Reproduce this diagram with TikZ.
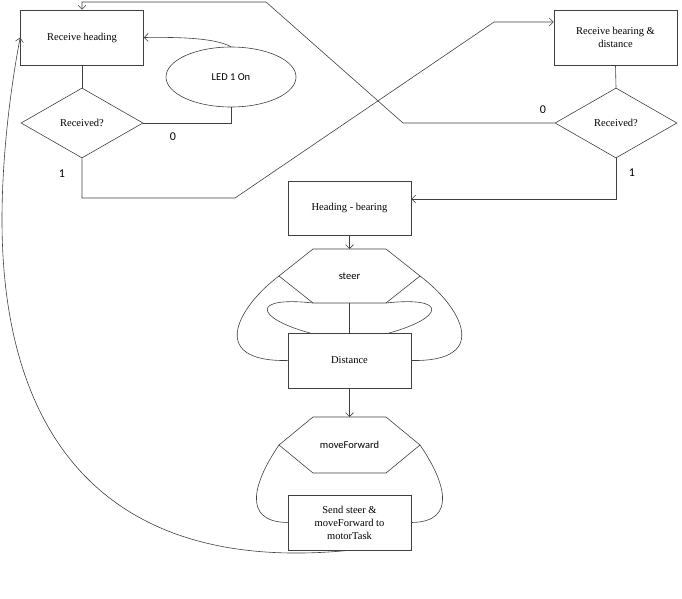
\documentclass[tikz,border=0pt]{standalone}
\usepackage{fontspec}
\setmainfont{Liberation Serif}
\newfontfamily\calib{Carlito}
\usepackage{tikz}
\usetikzlibrary{shapes.geometric}
\usetikzlibrary{arrows.meta}

\begin{document}
\begin{tikzpicture}[x=1pt,y=-1pt,line width=0.6pt,
        >={Straight Barb[length=4pt,width=8pt]},
        wire/.style={draw=black!75},
        box/.style={wire,rectangle,minimum width=123pt,minimum height=55pt,align=center,font=\fontsize{10.5}{13}\selectfont},
        decision/.style={wire,diamond,aspect=1.75,minimum width=122pt,minimum height=70pt,font=\fontsize{10.5}{13}\selectfont},
        lbl/.style={font=\calib\fontsize{10.5}{13}\selectfont},
        digit/.style={font=\calib\fontsize{12}{14}\selectfont}]
        \useasboundingbox (0,0) rectangle (682,599);

        \node[box] (rh) at (82,37.5) {Receive heading};
        \node[decision] (d1) at (82,123) {Received?};
        \node[wire,ellipse,minimum width=130pt,minimum height=60pt,lbl] (led) at (231,77) {LED 1 On};
        \node[box] (rb) at (615.5,37.5) {Receive bearing \&\\distance};
        \node[decision] (d2) at (616,123) {Received?};
        \node[box,minimum height=54pt] (hb) at (349.5,208) {Heading - bearing};
        \node[box] (dist) at (349.5,360.5) {Distance};
        \node[box] (send) at (349.5,522.5) {Send steer \&\\moveForward to\\motorTask};

        \coordinate (stTL) at (313,249);
        \coordinate (stTR) at (386,249);
        \coordinate (stR) at (420,276);
        \coordinate (stBR) at (386,303);
        \coordinate (stBL) at (313,303);
        \coordinate (stL) at (279,276);
        \draw[wire] (stTL) -- (stTR) -- (stR) -- (stBR) -- (stBL) -- (stL) -- cycle;
        \node[lbl] (steer) at (349.5,276) {steer};

        \coordinate (mvTL) at (313,417);
        \coordinate (mvTR) at (386,417);
        \coordinate (mvR) at (420,445);
        \coordinate (mvBR) at (386,473);
        \coordinate (mvBL) at (313,473);
        \coordinate (mvL) at (279,445);
        \draw[wire] (mvTL) -- (mvTR) -- (mvR) -- (mvBR) -- (mvBL) -- (mvL) -- cycle;
        \node[lbl] (move) at (349.5,445) {moveForward};

        \coordinate (j1) at (235,198);
        \coordinate (j2) at (494,22);
        \coordinate (k1) at (403,123);
        \coordinate (k2) at (266,2);
        \coordinate (bend) at (2,220);

        \draw[wire] (rh.south) -- (d1.north);
        \draw[wire] (d1.east) -| (led.south);
        \draw[wire,->] (led.north) .. controls (215,38) and (180,37) .. (rh.east);
        \draw[wire,->] (d1.south) |- (j1) -- (j2) -- (j2 -| rb.west);
        \draw[wire] (rb.south) -- (d2.north);
        \draw[wire,->] (d2.west) -- (k1) -- (k2) -| (rh.north);
        \draw[wire,->] (d2.south) |- ([yshift=9pt]hb.east);

        \node[digit] (zeroA) at (173,137) {0};
        \node[digit] (oneA) at (62,174) {1};
        \node[digit] (zeroB) at (543,110) {0};
        \node[digit] (oneB) at (632,173) {1};

        \draw[wire,->] (hb.south) -- (hb.south |- stTL);
        \draw[wire] (dist.north |- stBL) -- (dist.north);
        \draw[wire] (stBL) .. controls (250,296) and (255,318) .. (310,333);
        \draw[wire] (stBR) .. controls (449,296) and (444,318) .. (389,333);
        \draw[wire] (stL) .. controls (240,305) and (205,362) .. (dist.west);
        \draw[wire] (stR) .. controls (459,305) and (494,362) .. (dist.east);

        \draw[wire,->] (dist.south) -- (dist.south |- mvTL);
        \draw[wire] (mvL) .. controls (255,480) and (240,522) .. (send.west);
        \draw[wire] (mvR) .. controls (444,480) and (459,522) .. (send.east);

        \draw[wire,->] (send.south) .. controls (100,575) and (2,430) .. (bend)
            .. controls (2,150) and (12,80) .. (rh.west);
    \end{tikzpicture}
\end{document}
